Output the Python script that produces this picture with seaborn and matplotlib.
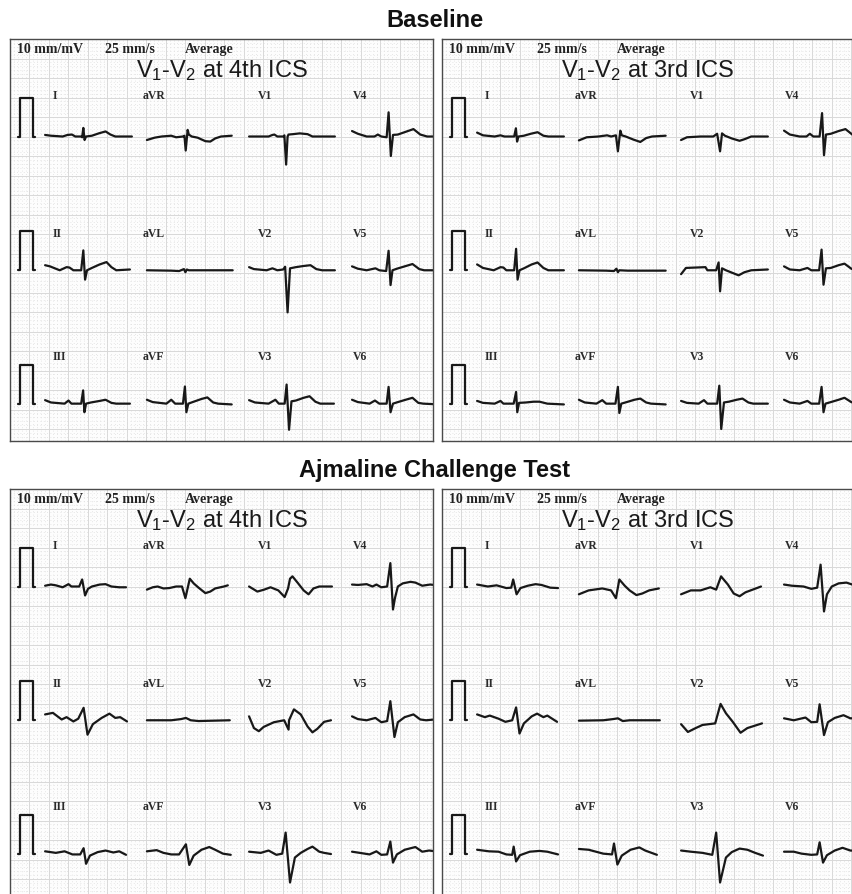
import numpy as np
import pandas as pd
import seaborn as sns
import matplotlib.pyplot as plt

# averaged complexes: (ms from strip start, mV)
# baseline, V1-V2 at 4th ICS
bl4_I = [(0,0.04),(60,0.02),(180,0.0),(230,0.04),(275,0.05),(310,0.0),(370,0.0),(380,-0.02),(392,0.22),(405,-0.09),(420,0.0),(480,0.02),(550,0.08),(620,0.13),(670,0.05),(720,0.0),(890,0.0)]
bl4_aVR = [(0,-0.09),(80,-0.03),(150,0.0),(250,0.02),(300,-0.02),(370,0.0),(385,0.02),(398,-0.36),(418,0.17),(430,0.05),(460,0.0),(520,-0.03),(600,-0.12),(650,-0.13),(700,-0.05),(760,0.0),(870,0.02)]
bl4_V1 = [(0,0.0),(200,0.0),(240,0.04),(260,0.05),(290,0.0),(355,0.0),(362,0.03),(380,-0.72),(395,0.0),(405,0.05),(450,0.06),(520,0.08),(600,0.06),(650,0.0),(880,0.0)]
bl4_V4 = [(0,0.14),(60,0.07),(150,0.0),(230,0.0),(265,0.05),(300,0.0),(355,-0.02),(375,0.62),(398,-0.5),(420,0.04),(470,0.05),(550,0.12),(630,0.19),(700,0.05),(770,0.0),(890,0.0)]
bl4_II = [(0,0.13),(50,0.1),(150,0.0),(220,0.08),(250,0.07),(290,0.0),(370,0.0),(392,0.51),(410,-0.24),(430,0.0),(480,0.06),(560,0.15),(630,0.21),(680,0.08),(730,0.0),(870,0.02)]
bl4_aVL = [(0,0.0),(250,-0.01),(330,-0.02),(380,0.03),(395,-0.05),(410,0.02),(430,0.0),(500,0.0),(880,0.0)]
bl4_V2 = [(0,0.08),(50,0.03),(180,0.0),(240,0.05),(290,0.0),(350,0.02),(370,0.09),(395,-1.08),(420,0.05),(480,0.08),(560,0.11),(630,0.13),(690,0.03),(750,0.0),(880,0.0)]
bl4_V5 = [(0,0.1),(60,0.04),(150,0.0),(240,0.05),(280,0.0),(350,-0.02),(375,0.5),(395,-0.38),(415,0.0),(460,0.04),(540,0.1),(620,0.16),(690,0.03),(740,0.0),(890,0.0)]
bl4_III = [(0,0.09),(60,0.03),(200,0.0),(240,0.08),(270,0.0),(370,0.0),(390,0.34),(403,-0.22),(420,0.0),(470,0.03),(560,0.07),(620,0.1),(680,0.02),(730,0.0),(870,0.0)]
bl4_aVF = [(0,0.1),(60,0.04),(200,0.0),(250,0.1),(290,0.0),(370,0.0),(390,0.44),(405,-0.22),(425,0.0),(480,0.05),(560,0.12),(620,0.16),(680,0.03),(730,0.0),(870,-0.02)]
bl4_V3 = [(0,0.09),(60,0.03),(200,0.0),(270,0.1),(305,0.0),(365,0.0),(385,0.49),(410,-0.67),(435,0.06),(480,0.08),(560,0.15),(620,0.19),(680,0.05),(730,0.0),(870,0.0)]
bl4_V6 = [(0,0.1),(60,0.04),(180,0.0),(235,0.08),(280,0.0),(355,0.0),(375,0.43),(395,-0.22),(420,0.0),(470,0.04),(550,0.1),(620,0.15),(680,0.02),(730,0.0),(890,-0.02)]

# baseline, V1-V2 at 3rd ICS
bl3_I = [(0,0.1),(60,0.03),(180,0.0),(240,0.03),(280,0.0),(380,0.0),(398,0.21),(410,-0.13),(425,0.0),(480,0.02),(550,0.07),(620,0.11),(680,0.02),(730,0.0),(890,0.0)]
bl3_aVR = [(0,-0.1),(80,-0.02),(200,0.0),(290,0.03),(330,0.0),(380,0.03),(400,-0.38),(425,0.15),(440,0.03),(480,0.0),(560,-0.08),(630,-0.14),(690,-0.04),(750,0.0),(890,0.02)]
bl3_V1 = [(0,-0.09),(60,-0.02),(200,0.0),(330,0.0),(370,0.07),(400,-0.38),(420,0.08),(450,0.02),(520,-0.05),(600,-0.11),(650,-0.07),(720,0.0),(890,0.0)]
bl3_V4 = [(0,0.15),(60,0.05),(160,0.0),(230,0.0),(265,0.07),(300,0.0),(365,0.0),(390,0.6),(410,-0.48),(430,0.05),(480,0.07),(560,0.14),(630,0.19),(700,0.05),(760,0.0),(890,0.0)]
bl3_II = [(0,0.15),(60,0.06),(170,0.0),(240,0.08),(270,0.07),(300,0.0),(380,0.0),(400,0.55),(415,-0.24),(435,0.0),(480,0.05),(560,0.15),(620,0.2),(680,0.06),(730,0.0),(890,0.0)]
bl3_aVL = [(0,0.0),(280,-0.01),(360,-0.02),(385,0.04),(400,-0.05),(415,0.0),(500,-0.01),(890,-0.01)]
bl3_V2 = [(0,-0.1),(50,0.06),(250,0.08),(270,0.0),(360,0.0),(385,0.2),(400,-0.54),(420,0.05),(460,0.0),(520,-0.06),(590,-0.13),(650,-0.05),(720,0.0),(890,0.02)]
bl3_V5 = [(0,0.1),(60,0.02),(160,0.0),(240,0.06),(280,0.0),(360,0.0),(385,0.53),(405,-0.37),(430,0.05),(480,0.06),(560,0.13),(620,0.17),(690,0.04),(740,0.0),(890,0.0)]
bl3_III = [(0,0.07),(60,0.02),(180,0.0),(240,0.07),(270,0.0),(375,0.0),(400,0.3),(412,-0.22),(430,0.02),(500,0.03),(580,0.05),(640,0.05),(720,0.0),(890,-0.02)]
bl3_aVF = [(0,0.1),(60,0.03),(180,0.0),(240,0.09),(280,0.0),(375,0.0),(400,0.43),(415,-0.24),(435,0.0),(490,0.04),(570,0.1),(630,0.13),(690,0.03),(740,0.0),(890,-0.02)]
bl3_V3 = [(0,0.07),(60,0.02),(180,0.0),(235,0.09),(270,0.0),(370,0.0),(392,0.46),(412,-0.65),(440,0.03),(490,0.05),(570,0.1),(630,0.13),(690,0.03),(740,0.0),(890,0.0)]
bl3_V6 = [(0,0.1),(60,0.03),(160,0.0),(240,0.07),(280,0.0),(360,0.0),(385,0.43),(405,-0.22),(425,0.0),(480,0.04),(560,0.1),(620,0.15),(690,0.04),(740,0.0),(890,0.0)]

# ajmaline, V1-V2 at 4th ICS
aj4_I = [(0,0.02),(60,0.05),(110,0.03),(180,-0.02),(240,0.06),(270,0.0),(350,0.0),(380,0.18),(410,-0.23),(440,-0.06),(480,0.0),(560,0.05),(620,0.06),(680,0.0),(760,-0.02),(830,-0.02)]
aj4_aVR = [(0,-0.08),(60,-0.02),(110,0.0),(170,-0.05),(230,-0.04),(300,0.0),(360,0.0),(395,-0.3),(440,0.2),(480,0.08),(530,-0.03),(600,-0.17),(650,-0.13),(700,-0.05),(790,0.0),(830,0.03)]
aj4_V1 = [(0,0.0),(85,-0.13),(155,-0.08),(220,-0.02),(300,-0.1),(365,-0.27),(400,-0.05),(420,0.2),(445,0.26),(500,0.09),(560,-0.1),(610,-0.2),(660,-0.05),(720,0.0),(850,0.0)]
aj4_V4 = [(0,0.05),(60,0.04),(150,0.06),(210,0.0),(250,0.05),(300,-0.02),(360,0.0),(393,0.6),(420,-0.59),(440,-0.3),(470,0.0),(520,0.08),(600,0.12),(650,0.1),(720,0.02),(800,0.05),(890,0.03)]
aj4_II = [(0,0.15),(80,0.19),(170,0.02),(220,0.08),(290,-0.03),(340,0.04),(395,0.32),(435,-0.37),(490,-0.1),(580,0.06),(660,0.17),(720,0.06),(770,0.08),(840,-0.03)]
aj4_aVL = [(0,0.0),(250,0.0),(350,0.03),(400,0.06),(450,0.0),(530,-0.02),(850,0.0)]
aj4_V2 = [(0,0.1),(50,-0.2),(100,-0.28),(150,-0.17),(255,-0.05),(360,0.0),(405,-0.24),(410,0.0),(460,0.28),(530,0.15),(600,-0.16),(650,-0.31),(700,-0.22),(770,-0.04),(840,0.0)]
aj4_V5 = [(0,0.1),(60,0.03),(150,0.0),(240,0.06),(300,-0.05),(360,-0.02),(393,0.49),(435,-0.43),(470,-0.05),(540,0.08),(630,0.15),(700,0.02),(760,0.0),(890,0.03)]
aj4_III = [(0,0.06),(110,0.02),(200,0.06),(280,-0.02),(360,-0.02),(395,0.14),(420,-0.26),(460,-0.05),(540,0.04),(620,0.08),(700,0.03),(760,0.06),(830,-0.03)]
aj4_aVF = [(0,0.06),(100,0.09),(170,0.02),(250,-0.02),(330,-0.02),(400,0.24),(435,-0.29),(480,-0.05),(560,0.1),(640,0.17),(700,0.1),(780,0.0),(860,-0.03)]
aj4_V3 = [(0,0.05),(120,0.02),(200,0.08),(280,-0.03),(340,0.0),(375,0.54),(420,-0.74),(470,-0.1),(530,0.02),(600,0.12),(650,0.18),(720,0.05),(770,0.02),(840,-0.01)]
aj4_V6 = [(0,0.05),(80,0.02),(180,-0.02),(250,0.06),(300,-0.03),(360,-0.02),(393,0.31),(420,-0.23),(460,-0.02),(540,0.1),(650,0.17),(720,0.05),(790,0.08),(890,0.05)]

# ajmaline, V1-V2 at 3rd ICS
aj3_I = [(0,0.05),(110,0.0),(200,0.03),(300,-0.04),(350,-0.03),(370,0.18),(405,-0.2),(445,-0.04),(520,0.02),(600,0.06),(660,0.04),(750,-0.03),(830,-0.04)]
aj3_aVR = [(0,-0.2),(100,-0.1),(240,-0.05),(330,-0.1),(380,-0.3),(415,0.18),(470,0.02),(520,-0.1),(590,-0.22),(650,-0.18),(720,-0.1),(820,-0.05)]
aj3_V1 = [(0,-0.2),(100,-0.1),(200,-0.1),(300,-0.02),(360,-0.08),(410,0.26),(480,0.05),(540,-0.18),(600,-0.25),(660,-0.15),(820,0.0)]
aj3_V4 = [(0,0.05),(80,0.02),(200,0.0),(280,-0.06),(340,-0.03),(375,0.56),(410,-0.64),(440,-0.2),(490,0.0),(560,0.08),(640,0.1),(700,0.05),(890,0.05)]
aj3_II = [(0,0.15),(80,0.08),(130,0.12),(220,0.04),(290,-0.04),(360,0.0),(400,0.33),(435,-0.34),(480,-0.08),(560,0.1),(615,0.17),(680,0.08),(720,0.12),(820,-0.04)]
aj3_aVL = [(0,-0.01),(250,0.0),(350,0.03),(400,0.05),(450,-0.02),(520,0.0),(830,0.0)]
aj3_V2 = [(0,-0.1),(70,-0.3),(150,-0.2),(220,-0.12),(350,-0.08),(405,0.42),(460,0.18),(530,-0.04),(610,-0.32),(680,-0.2),(830,-0.08)]
aj3_V5 = [(0,0.05),(100,0.0),(220,0.07),(280,-0.05),(340,-0.04),(365,0.41),(410,-0.38),(450,-0.05),(520,0.06),(610,0.13),(680,0.05),(890,0.05)]
aj3_III = [(0,0.1),(120,0.06),(220,0.05),(300,-0.02),(360,-0.03),(375,0.18),(400,-0.2),(440,-0.04),(540,0.05),(640,0.07),(720,0.05),(830,-0.02)]
aj3_aVF = [(0,0.12),(100,0.1),(250,0.0),(340,-0.02),(360,0.26),(395,-0.28),(440,-0.05),(530,0.1),(620,0.16),(680,0.08),(800,-0.03)]
aj3_V3 = [(0,0.08),(100,0.05),(220,0.02),(320,-0.03),(360,0.54),(400,-0.74),(460,-0.1),(520,0.04),(600,0.13),(680,0.1),(760,0.02),(840,-0.05)]
aj3_V6 = [(0,0.05),(100,0.05),(180,0.0),(280,-0.03),(340,-0.02),(365,0.29),(400,-0.23),(440,-0.04),(520,0.08),(600,0.15),(680,0.08),(890,0.06)]

lead_rows = [["I", "aVR", "V1", "V4"], ["II", "aVL", "V2", "V5"], ["III", "aVF", "V3", "V6"]]
lead_order = ["I", "II", "III", "aVR", "aVL", "aVF", "V1", "V2", "V3", "V4", "V5", "V6"]

# 1 mV calibration pulse
cal_ms = [0, 25, 25, 155, 155, 180]
cal_mv = [0, 0, 1, 1, 0, 0]

sections = ["Baseline", "Ajmaline Challenge Test"]
subtitles = ["V$_1$-V$_2$ at 4th ICS", "V$_1$-V$_2$ at 3rd ICS"]
header = ["10 mm/mV", "25 mm/s", "Average"]

panels = {
    (0, 0): dict(zip(lead_order, [bl4_I, bl4_II, bl4_III, bl4_aVR, bl4_aVL, bl4_aVF, bl4_V1, bl4_V2, bl4_V3, bl4_V4, bl4_V5, bl4_V6])),
    (0, 1): dict(zip(lead_order, [bl3_I, bl3_II, bl3_III, bl3_aVR, bl3_aVL, bl3_aVF, bl3_V1, bl3_V2, bl3_V3, bl3_V4, bl3_V5, bl3_V6])),
    (1, 0): dict(zip(lead_order, [aj4_I, aj4_II, aj4_III, aj4_aVR, aj4_aVL, aj4_aVF, aj4_V1, aj4_V2, aj4_V3, aj4_V4, aj4_V5, aj4_V6])),
    (1, 1): dict(zip(lead_order, [aj3_I, aj3_II, aj3_III, aj3_aVR, aj3_aVL, aj3_aVF, aj3_V1, aj3_V2, aj3_V3, aj3_V4, aj3_V5, aj3_V6])),
}

# paper geometry
W, H = 853, 895
PX = 3.9            # pixels per mm
MM_MS = 25 / 1000   # 25 mm/s
MM_MV = 10          # 10 mm/mV
col_start = [9.0, 35.1, 61.3, 87.7]
row_base = [25.0, 59.3, 93.5]
label_x = [11.0, 34.1, 63.6, 87.9]
label_y = [15.1, 50.5, 82.0]
cal_x0 = 2.0


def panel_frame(leads):
    recs = []
    for r, row in enumerate(lead_rows):
        for c, name in enumerate(row):
            for t, v in leads[name]:
                recs.append((name, col_start[c] + t * MM_MS, row_base[r] - v * MM_MV))
        for t, v in zip(cal_ms, cal_mv):
            recs.append((f"cal{r}", cal_x0 + t * MM_MS, row_base[r] - v * MM_MV))
    return pd.DataFrame(recs, columns=["lead", "x", "y"])


sns.set_style("white")
plt.rcParams["font.family"] = ["Liberation Sans", "DejaVu Sans"]
plt.rcParams["mathtext.default"] = "regular"

fig = plt.figure(figsize=(W / 100, H / 100), dpi=100)
fig.patch.set_facecolor("white")

lefts = [10, 442]
tops = [40, 490]
pw = 423

for (i, j), leads in panels.items():
    left, top = lefts[j], tops[i]
    h = 402 if i == 0 else 420
    ax = fig.add_axes([left / W, 1 - (top + h) / H, pw / W, h / H])
    ax.set_facecolor("#fdfdfd")
    df = panel_frame(leads)
    sns.lineplot(data=df, x="x", y="y", units="lead", estimator=None, sort=False,
                 color="#181818", lw=1.6, ax=ax, legend=False)
    ax.set_xlim(0, pw / PX)
    ax.set_ylim(h / PX, 0)
    ax.set_xticks(np.arange(0, pw / PX, 5))
    ax.set_xticks(np.arange(0, pw / PX, 1), minor=True)
    ax.set_yticks(np.arange(0, h / PX, 5))
    ax.set_yticks(np.arange(0, h / PX, 1), minor=True)
    ax.tick_params(which="both", length=0, labelbottom=False, labelleft=False)
    ax.grid(which="major", color="#d8d8d8", lw=0.7)
    ax.grid(which="minor", color="#dedede", lw=0.6, ls=(0, (1, 3)))
    ax.set_axisbelow(True)
    ax.set_xlabel("")
    ax.set_ylabel("")
    for s in ax.spines.values():
        s.set_color("#4a4a4a")
        s.set_linewidth(1.0)
    for x, txt in zip([7, 95, 175], header):
        ax.text(x / PX, 13 / PX, txt, ha="left", va="baseline", fontsize=10,
                family="Liberation Serif", weight="bold", color="#222222")
    ax.text((212 if j == 0 else 206) / PX, 37 / PX, subtitles[j], ha="center",
            va="baseline", fontsize=17, color="#1a1a1a")
    for r, row in enumerate(lead_rows):
        for c, name in enumerate(row):
            ax.text(label_x[c], label_y[r], name, ha="left", va="baseline", fontsize=8.5,
                    family="Liberation Serif", weight="bold", color="#2a2a2a")

for i, title in enumerate(sections):
    fig.text(435 / W, 1 - (27 + 450 * i) / H, title, ha="center", va="baseline",
             fontsize=17, weight="bold", color="#111111")

fig.savefig("out.png", dpi=100)
